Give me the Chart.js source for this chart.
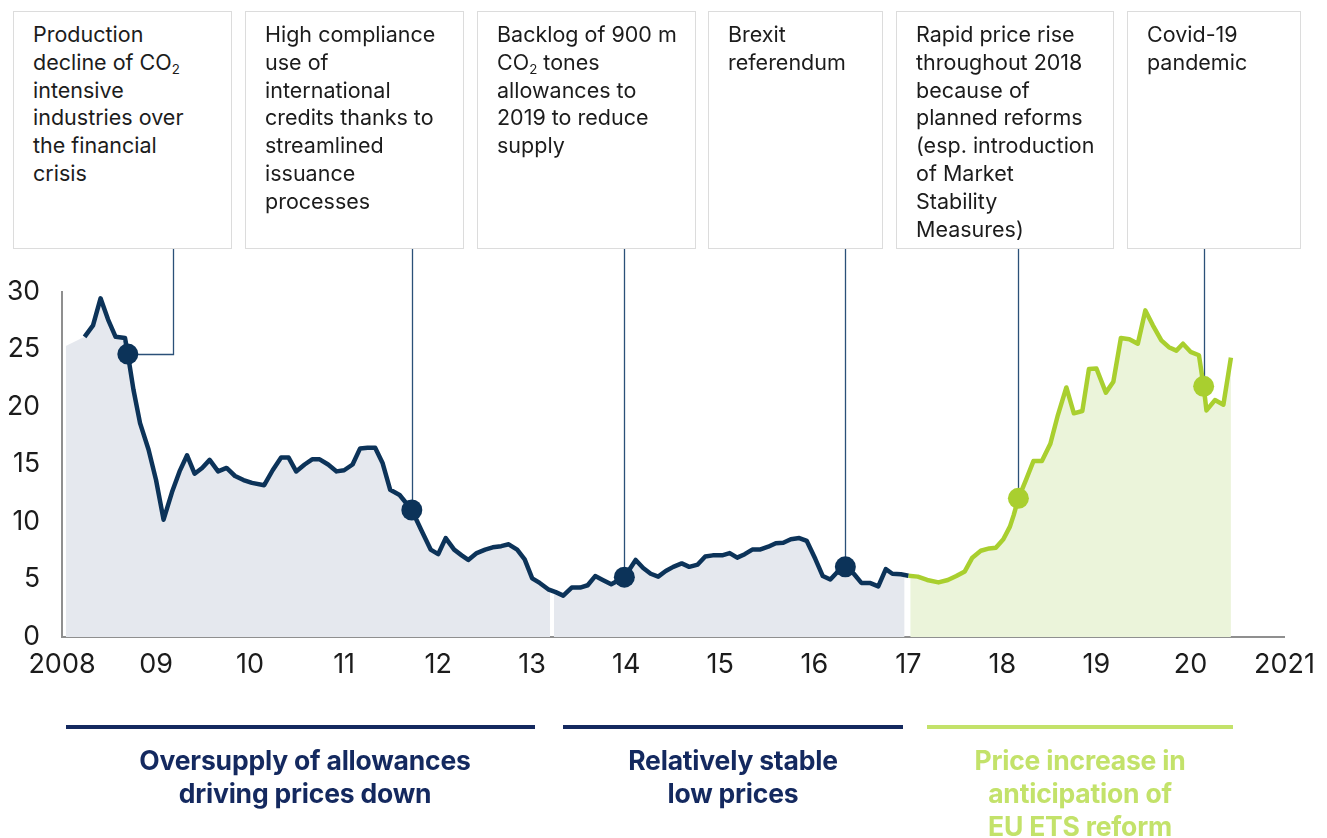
<!DOCTYPE html>
<html>
<head>
<meta charset="utf-8">
<script src="https://cdn.jsdelivr.net/npm/chart.js@4.4.1/dist/chart.umd.min.js"></script>
<style>
  html, body { margin: 0; padding: 0; background: #fff; }
  #page { position: relative; width: 1327px; height: 838px; overflow: hidden; font-family: Inter, "Noto Sans", sans-serif; }
  #chart { position: absolute; left: 0; top: 0; }
  .note {
    position: absolute; top: 11px; height: 238px; box-sizing: border-box;
    border: 1px solid #dcdcdc; padding: 9px 0 0 19px;
    font-size: 21.5px; line-height: 27.8px; color: #1c1c1c; white-space: nowrap; background: #fff;
  }
  .note sub { font-size: 0.62em; vertical-align: -0.3em; line-height: 0; }
  .band { position: absolute; top: 725px; height: 4px; }
  .caption {
    position: absolute; top: 744px; text-align: center; transform: translateX(-50%);
    font-weight: 700; font-size: 26.5px; line-height: 33px; white-space: nowrap; letter-spacing: -0.2px;
  }
</style>
</head>
<body>
<div id="page">
  <canvas id="chart" width="1327" height="838"></canvas>

  <div class="note" style="left:13px;width:219px">Production<br>decline of CO<sub>2</sub><br>intensive<br>industries over<br>the financial<br>crisis</div>
  <div class="note" style="left:245px;width:219px">High compliance<br>use of<br>international<br>credits thanks to<br>streamlined<br>issuance<br>processes</div>
  <div class="note" style="left:477px;width:219px">Backlog of 900 m<br>CO<sub>2</sub> tones<br>allowances to<br>2019 to reduce<br>supply</div>
  <div class="note" style="left:708px;width:175px">Brexit<br>referendum</div>
  <div class="note" style="left:896px;width:218px">Rapid price rise<br>throughout 2018<br>because of<br>planned reforms<br>(esp. introduction<br>of Market<br>Stability<br>Measures)</div>
  <div class="note" style="left:1127px;width:174px">Covid-19<br>pandemic</div>

  <div class="band" style="left:66px;width:469px;background:#14295f"></div>
  <div class="band" style="left:563px;width:340px;background:#14295f"></div>
  <div class="band" style="left:927px;width:306px;background:#c3e26a"></div>

  <div class="caption" style="left:305px;color:#14295f">Oversupply of allowances<br>driving prices down</div>
  <div class="caption" style="left:733px;color:#14295f">Relatively stable<br>low prices</div>
  <div class="caption" style="left:1080px;color:#c3e26a">Price increase in<br>anticipation of<br>EU ETS reform</div>
</div>

<script>
// EUA price, EUR per tonne (decimal years)
const navyYears = [
  2008.24, 2008.33, 2008.41, 2008.49, 2008.57, 2008.67, 2008.70, 2008.76, 2008.83, 2008.92,
  2009.00, 2009.08, 2009.17, 2009.25, 2009.33, 2009.41, 2009.49, 2009.57, 2009.66, 2009.75, 2009.84, 2009.93,
  2010.02, 2010.15, 2010.24, 2010.33, 2010.41, 2010.49, 2010.58, 2010.66, 2010.74, 2010.83, 2010.92,
  2011.00, 2011.09, 2011.17, 2011.25, 2011.33, 2011.41, 2011.49, 2011.59, 2011.72, 2011.82, 2011.92,
  2012.00, 2012.08, 2012.17, 2012.25, 2012.32, 2012.41, 2012.50, 2012.58, 2012.67, 2012.75, 2012.84, 2012.92,
  2013.00, 2013.08, 2013.17, 2013.25, 2013.33, 2013.42, 2013.51, 2013.59, 2013.67, 2013.75, 2013.84, 2013.98,
  2014.10, 2014.18, 2014.26, 2014.34, 2014.42, 2014.50, 2014.59, 2014.67, 2014.76, 2014.84, 2014.92,
  2015.02, 2015.10, 2015.18, 2015.26, 2015.34, 2015.42, 2015.51, 2015.59, 2015.67, 2015.75, 2015.84, 2015.92,
  2016.01, 2016.09, 2016.17, 2016.25, 2016.33, 2016.42, 2016.50, 2016.59, 2016.68, 2016.76, 2016.83, 2016.92,
  2017.00
];
const navyPrices = [
  26.1, 27.1, 29.45, 27.6, 26.1, 26.0, 24.6, 21.5, 18.6, 16.3,
  13.65, 10.2, 12.6, 14.4, 15.8, 14.2, 14.7, 15.4, 14.4, 14.7, 14.0, 13.65,
  13.4, 13.2, 14.5, 15.6, 15.6, 14.4, 15.0, 15.45, 15.45, 15.0, 14.4,
  14.5, 15.0, 16.4, 16.46, 16.46, 15.1, 12.8, 12.35, 11.04, 9.3, 7.6,
  7.2, 8.6, 7.6, 7.1, 6.7, 7.3, 7.6, 7.8, 7.9, 8.06, 7.6, 6.75,
  5.1, 4.7, 4.15, 3.9, 3.6, 4.3, 4.3, 4.5, 5.3, 4.96, 4.58, 5.2,
  6.7, 6.0, 5.5, 5.25, 5.74, 6.1, 6.4, 6.1, 6.3, 7.0, 7.1,
  7.1, 7.3, 6.9, 7.2, 7.6, 7.6, 7.85, 8.15, 8.2, 8.5, 8.6, 8.35,
  6.8, 5.3, 5.0, 5.7, 6.1, 5.5, 4.7, 4.7, 4.4, 5.9, 5.5, 5.45,
  5.33
];
const greenYears = [
  2017.00, 2017.10, 2017.20, 2017.32, 2017.42, 2017.51, 2017.60, 2017.68, 2017.77, 2017.86, 2017.93,
  2018.01, 2018.08, 2018.12, 2018.17, 2018.25, 2018.33, 2018.42, 2018.51, 2018.59, 2018.68, 2018.76, 2018.85, 2018.92,
  2019.00, 2019.10, 2019.18, 2019.26, 2019.35, 2019.44, 2019.52, 2019.60, 2019.69, 2019.77, 2019.85, 2019.92,
  2020.00, 2020.09, 2020.14, 2020.17, 2020.26, 2020.35, 2020.43
];
const greenPrices = [
  5.33, 5.25, 4.96, 4.75, 4.96, 5.3, 5.7, 6.9, 7.5, 7.7, 7.77,
  8.5, 9.6, 10.6, 12.06, 13.65, 15.3, 15.3, 16.8, 19.3, 21.7, 19.45, 19.65, 23.3,
  23.35, 21.25, 22.2, 26.0, 25.9, 25.5, 28.4, 27.1, 25.8, 25.2, 24.9, 25.5,
  24.8, 24.5, 21.8, 19.7, 20.6, 20.2, 24.3
];

// shaded phases: [from, to] in years, with the edge heights seen in the picture
const phaseRanges = [[2008.04, 2013.19], [2013.23, 2016.96], [2017.02, 2020.43]];
const phaseStartPrices = [25.3, 3.95, 5.3];
const phaseEndPrices = [4.05, 5.42, 24.3];

// highlighted events (dots)
const eventYears = [2008.70, 2011.72, 2013.98, 2016.33, 2018.17, 2020.14];
const eventPrices = [24.6, 11.04, 5.2, 6.1, 12.06, 21.8];

const yearLabels = ['2008', '09', '10', '11', '12', '13', '14', '15', '16', '17', '18', '19', '20', '2021'];
const priceTicks = [0, 5, 10, 15, 20, 25, 30];

const NAVY = '#0c3359';
const GREEN = '#a9cf2f';

function toPoints(xs, ys) {
  return xs.map((x, i) => ({ x, y: ys[i] }));
}

function phasePoints(i) {
  const [from, to] = phaseRanges[i];
  const xs = navyYears.concat(greenYears);
  const ys = navyPrices.concat(greenPrices);
  const pts = [{ x: from, y: phaseStartPrices[i] }];
  xs.forEach((x, k) => {
    if (x > from && x < to && !pts.some(p => p.x === x)) pts.push({ x, y: ys[k] });
  });
  pts.push({ x: to, y: phaseEndPrices[i] });
  return pts;
}

// leader lines from the notes down to the dots
const leaderPlugin = {
  id: 'leaders',
  beforeDatasetsDraw(chart) {
    const { ctx, scales: { x, y } } = chart;
    const top = 249;
    ctx.save();
    ctx.strokeStyle = '#2b5078';
    ctx.lineWidth = 1.3;
    eventYears.forEach((yr, i) => {
      const px = Math.round(x.getPixelForValue(yr)) + 0.5;
      const py = y.getPixelForValue(eventPrices[i]);
      ctx.beginPath();
      if (i === 0) {
        ctx.moveTo(173.5, top);
        ctx.lineTo(173.5, Math.round(py) + 0.5);
        ctx.lineTo(px, Math.round(py) + 0.5);
      } else {
        ctx.moveTo(px, top);
        ctx.lineTo(px, py);
      }
      ctx.stroke();
    });
    ctx.restore();
  },
};

Chart.defaults.font.family = 'Inter, "Noto Sans", sans-serif';
Chart.defaults.color = '#1c1c1c';

const fillColors = ['#e5e8ee', '#e5e8ee', '#ebf4da'];

new Chart(document.getElementById('chart'), {
  type: 'line',
  data: {
    datasets: [
      {
        data: toPoints(eventYears, eventPrices),
        showLine: false,
        pointRadius: 10.5,
        pointHoverRadius: 10.5,
        pointBorderWidth: 0,
        pointBackgroundColor: eventYears.map(y => (y > 2017 ? GREEN : NAVY)),
        order: 0,
      },
      {
        data: toPoints(navyYears, navyPrices),
        borderColor: NAVY,
        borderWidth: 4.5,
        borderJoinStyle: 'round',
        pointRadius: 0,
        fill: false,
        order: 1,
      },
      {
        data: toPoints(greenYears, greenPrices),
        borderColor: GREEN,
        borderWidth: 4.5,
        borderJoinStyle: 'round',
        pointRadius: 0,
        fill: false,
        order: 1,
      },
      ...phaseRanges.map((_, i) => ({
        data: phasePoints(i),
        borderWidth: 0,
        borderColor: 'rgba(0,0,0,0)',
        backgroundColor: fillColors[i],
        pointRadius: 0,
        fill: 'origin',
        order: 2,
      })),
    ],
  },
  options: {
    responsive: false,
    devicePixelRatio: 1,
    animation: false,
    events: [],
    layout: { padding: { top: 292, left: 0, right: 40, bottom: 161 } },
    plugins: { legend: { display: false }, tooltip: { enabled: false } },
    scales: {
      x: {
        type: 'linear',
        min: 2008,
        max: 2021,
        afterFit: s => { s.height = 40; },
        grid: { display: false, drawTicks: false },
        border: { display: true, color: '#8f8f8f', width: 2 },
        ticks: {
          stepSize: 1,
          autoSkip: false,
          maxRotation: 0,
          padding: 12,
          font: { size: 27 },
          callback: v => yearLabels[Math.round(v - 2008)],
        },
      },
      y: {
        min: 0,
        max: 30,
        afterFit: s => { s.width = 62; },
        afterBuildTicks: s => { s.ticks = priceTicks.map(v => ({ value: v })); },
        grid: { display: false, drawTicks: false },
        border: { display: true, color: '#8f8f8f', width: 2 },
        ticks: { padding: 22, font: { size: 26.5 } },
      },
    },
  },
  plugins: [leaderPlugin],
});
</script>
</body>
</html>
